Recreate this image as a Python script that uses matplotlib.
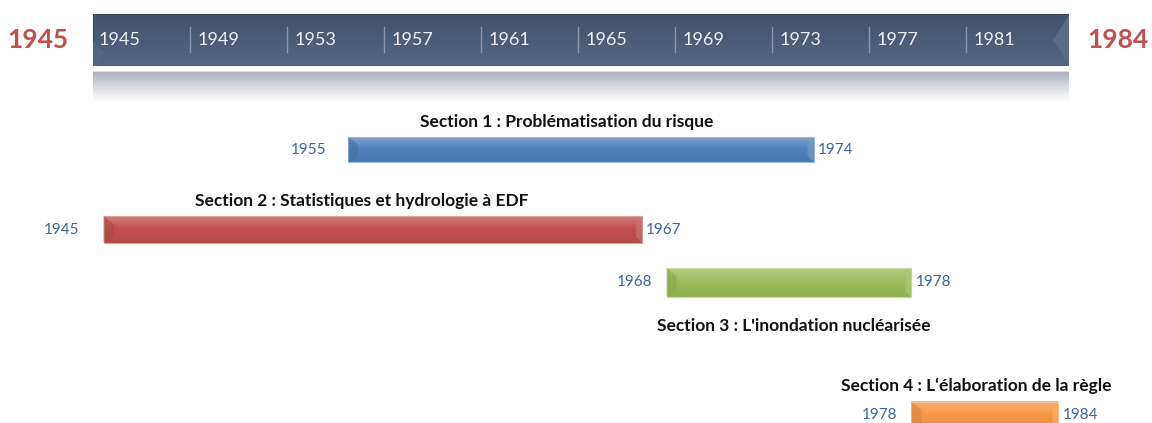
import numpy as np
import matplotlib
matplotlib.use("Agg")
import matplotlib.pyplot as plt
from matplotlib.patches import Rectangle, Polygon
from matplotlib.colors import LinearSegmentedColormap, to_rgb

plt.rcParams['font.family'] = ['Lato', 'DejaVu Sans']

# ---- data ----
titles = ["Section 1 : Problématisation du risque",
          "Section 2 : Statistiques et hydrologie à EDF",
          "Section 3 : L'inondation nucléarisée",
          "Section 4 : L\u2018élaboration de la règle"]
starts = [1955, 1945, 1968, 1978]
ends = [1974, 1967, 1978, 1984]
colors = ["#4F81BD", "#C0504D", "#9BBB59", "#F79646"]
header_ticks = [1945, 1949, 1953, 1957, 1961, 1965, 1969, 1973, 1977, 1981]
range_start, range_end = 1945, 1984

# ---- layout (pixels) ----
W, H = 1152, 423
fig = plt.figure(figsize=(W / 100, H / 100), dpi=100)

def mix(c, w, t):
    c = np.array(to_rgb(c)); w = np.array(to_rgb(w))
    return tuple(c * (1 - t) + w * t)

# main axes: years on x, pixel rows on y
ax = fig.add_axes([0, 0, 1, 1])
px_per_year = 24.48
x0 = 1945 - 103.6 / px_per_year
ax.set_xlim(x0, x0 + W / px_per_year)
ax.set_ylim(H, 0)
ax.axis('off')

# header axes
hx0, hx1 = 93, 1069
hax = fig.add_axes([hx0 / W, 1 - 110 / H, (hx1 - hx0) / W, 110 / H])
hax.set_xlim(1945, 1945 + (hx1 - hx0) / 24.25)
hax.set_ylim(110, 0)
hax.axis('off')
hl, hr = hax.get_xlim()

# header bar gradient
grad = np.linspace(0, 1, 64).reshape(-1, 1)
cmap_h = LinearSegmentedColormap.from_list('h', ["#445269", "#4C5C76", "#56667F"])
hax.imshow(grad, extent=(hl, hr, 65, 14), cmap=cmap_h, aspect='auto', zorder=1)
hax.add_patch(Rectangle((hl, 14), hr - hl, 51, fill=False, ec="#3A465A", lw=0.6, zorder=2))
# bevel corners
yr = 1 / 24.25
hax.add_patch(Polygon([(hl, 65), (hl, 42), (hl + 12 * yr, 53)], closed=True,
                      fc="#56667F", ec='none', zorder=2))
hax.add_patch(Polygon([(hr, 15), (hr, 64), (hr - 16 * yr, 40)], closed=True,
                      fc="#5B6B85", ec='none', zorder=2))
# reflection
cmap_r = LinearSegmentedColormap.from_list('r', ["#A9B1BE", "#D5D9E0", "#FFFFFF"])
hax.imshow(grad, extent=(hl, hr, 102, 71), cmap=cmap_r, aspect='auto', zorder=1)
hax.plot([hl, hr], [71.5, 71.5], color="#DDE1E7", lw=0.8, zorder=2)

for i, t in enumerate(header_ticks):
    if i > 0:
        hax.plot([t, t], [27, 52], color="#8C97AA", lw=1.0, zorder=3)
    hax.text(t + 8 * yr if i > 0 else t + 6 * yr, 40, str(t), color="#EEF0F4",
             fontsize=13, va='center', ha='left', zorder=4)

fig.text(38 / W, 1 - 40 / H, str(range_start), color="#C0504D", fontsize=19,
         fontweight='bold', ha='center', va='center')
fig.text(1118 / W, 1 - 40 / H, str(range_end), color="#C0504D", fontsize=19,
         fontweight='bold', ha='center', va='center')

# section bars
bar_rows = [(137, 162), (216, 243), (268, 297), (402, 428)]
title_y = [122, 201, 326, 386]
title_dx = [-14, -11, 5, -9]
start_gap = [-22, -24, -14, -14]
label_color = "#3B64A0"
for s, e, c, (y0, y1), ty, tdx, sg, tt in zip(starts, ends, colors, bar_rows, title_y,
                                              title_dx, start_gap, titles):
    g = LinearSegmentedColormap.from_list('b', [mix(c, "white", 0.25), c, mix(c, "black", 0.06)])
    ax.imshow(np.linspace(0, 1, 64).reshape(-1, 1), extent=(s, e, y1, y0), cmap=g,
              aspect='auto', zorder=2)
    ax.add_patch(Rectangle((s, y0), e - s, y1 - y0, fill=False,
                           ec=mix(c, "white", 0.45), lw=0.8, zorder=3))
    d = 10 / px_per_year
    ym = (y0 + y1) / 2
    ax.add_patch(Polygon([(s, y0), (s + d, y0 + 8), (s + d, y1 - 6), (s, y1)], closed=True,
                         fc=mix(c, "black", 0.12), ec='none', alpha=0.6, zorder=3))
    ax.add_patch(Polygon([(e, y0), (e - d * 0.6, y0 + 8), (e - d * 0.6, y1 - 6), (e, y1)],
                         closed=True, fc=mix(c, "white", 0.2), ec='none', alpha=0.7, zorder=3))
    ax.annotate(str(s), (s, ym), xytext=(sg, 0), textcoords='offset pixels',
                ha='right', va='center', color=label_color, fontsize=11)
    ax.annotate(str(e), (e, ym), xytext=(4, 0), textcoords='offset pixels',
                ha='left', va='center', color=label_color, fontsize=11)
    ax.annotate(tt, ((s + e) / 2, ty), xytext=(tdx, 0), textcoords='offset pixels',
                ha='center', va='center', fontsize=12.5, fontweight='bold', color="#111111")

fig.savefig("out.png", dpi=100)
